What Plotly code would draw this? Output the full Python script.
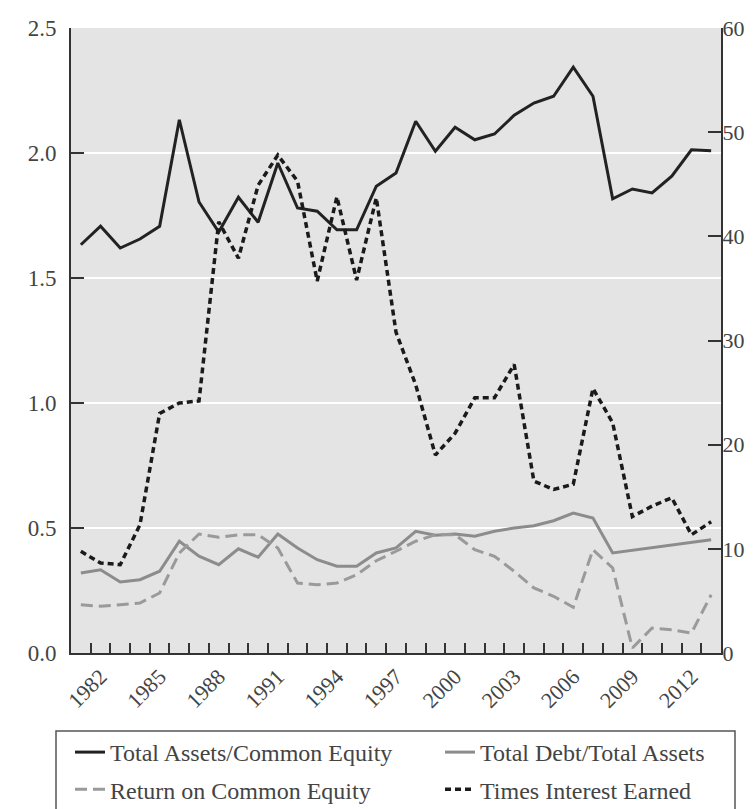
import plotly.graph_objects as go

years = list(range(1981, 2014))
tick_years = [1982, 1985, 1988, 1991, 1994, 1997, 2000, 2003, 2006, 2009, 2012]
tick_labels = [str(y) for y in tick_years]

assets_to_equity = [1.633, 1.707, 1.62, 1.656, 1.707, 2.133, 1.804, 1.684, 1.823, 1.723,
                    1.96, 1.78, 1.767, 1.693, 1.693, 1.867, 1.92, 2.127, 2.007, 2.103,
                    2.053, 2.076, 2.151, 2.2, 2.227, 2.343, 2.227, 1.817, 1.856, 1.84,
                    1.907, 2.013, 2.009]
debt_to_assets = [0.32, 0.333, 0.284, 0.293, 0.327, 0.447, 0.387, 0.353, 0.417, 0.383,
                  0.476, 0.42, 0.373, 0.347, 0.347, 0.4, 0.42, 0.487, 0.471, 0.476,
                  0.467, 0.487, 0.5, 0.509, 0.529, 0.56, 0.54, 0.4, None, None,
                  None, None, 0.453]
return_on_equity = [0.193, 0.187, 0.193, 0.2, 0.24, 0.40, 0.476, 0.463, 0.473, 0.473,
                    0.42, 0.28, 0.273, 0.28, 0.313, 0.369, 0.407, 0.447, 0.473, 0.473,
                    0.413, 0.387, 0.327, 0.26, 0.227, 0.183, 0.413, 0.34, 0.02, 0.1,
                    0.093, 0.08, 0.233]
times_interest = [9.76, 8.64, 8.48, 12.3, 23.0, 24.0, 24.2, 41.4, 37.9, 44.9,
                  47.8, 45.3, 35.7, 43.8, 35.8, 43.7, 30.8, 25.75, 19.0, 21.1,
                  24.5, 24.5, 27.7, 16.5, 15.7, 16.2, 25.4, 22.1, 13.1, 14.1,
                  14.9, 11.35, 12.6]

FONT = "Liberation Serif"
W, H = 753, 809
ML, MR, MT, MB = 63, 40, 20, 164
PW, PH = W - ML - MR, H - MT - MB


def px_x(p):
    return (p - ML) / PW


def px_y(p):
    return (H - MB - p) / PH


fig = go.Figure()
fig.add_trace(go.Scatter(x=years, y=assets_to_equity, name="Total Assets/Common Equity",
                         mode="lines", line=dict(color="#222222", width=3), yaxis="y",
                         legend="legend", legendgroup="a"))
fig.add_trace(go.Scatter(x=years, y=debt_to_assets, name="Total Debt/Total Assets",
                         mode="lines", connectgaps=True,
                         line=dict(color="#8c8c8c", width=3), yaxis="y",
                         legend="legend2", legendgroup="b"))
fig.add_trace(go.Scatter(x=years, y=return_on_equity, name="Return on Common Equity",
                         mode="lines", line=dict(color="#9a9a9a", width=3, dash="12px,6px"),
                         yaxis="y", legend="legend", legendgroup="c"))
fig.add_trace(go.Scatter(x=years, y=times_interest, name="Times Interest Earned",
                         mode="lines", line=dict(color="#1a1a1a", width=3.5, dash="6px,4px"),
                         yaxis="y2", legend="legend2", legendgroup="d"))

legend_common = dict(
    orientation="v", xref="container", yref="container",
    xanchor="left", yanchor="top",
    bgcolor="rgba(0,0,0,0)", borderwidth=0,
    font=dict(family=FONT, size=24, color="#444444"),
    traceorder="grouped", tracegroupgap=3,
)

fig.update_layout(
    width=W, height=H,
    margin=dict(l=ML, r=MR, t=MT, b=MB, autoexpand=False),
    paper_bgcolor="white",
    plot_bgcolor="#e4e4e4",
    font=dict(family=FONT, size=23, color="#444444"),
    xaxis=dict(
        range=[1980.5, 2013.5], automargin=False,
        tickmode="array", tickvals=tick_years, ticktext=tick_labels,
        tickangle=-45, ticks="", showgrid=False, zeroline=False,
        showline=True, linecolor="#333333", linewidth=2,
        tickfont=dict(size=22, color="#444444"),
        minor=dict(tickvals=[y + 0.5 for y in years[:-1]], ticks="inside",
                   ticklen=10, tickcolor="#333333", tickwidth=1.5, showgrid=False),
    ),
    yaxis=dict(
        range=[0, 2.5], tickvals=[0, 0.5, 1.0, 1.5, 2.0, 2.5], automargin=False,
        ticktext=["0.0", "0.5", "1.0", "1.5", "2.0", "2.5"],
        ticks="inside", ticklen=13, tickcolor="#333333", tickwidth=1.5,
        showline=True, linecolor="#333333", linewidth=2,
        showgrid=True, gridcolor="white", gridwidth=2, zeroline=False,
        ticklabelstandoff=8,
    ),
    yaxis2=dict(
        range=[0, 60], tickvals=[0, 10, 20, 30, 40, 50, 60], automargin=False,
        overlaying="y", side="right",
        ticks="inside", ticklen=13, tickcolor="#333333", tickwidth=1.5,
        showline=True, linecolor="#333333", linewidth=2,
        showgrid=False, zeroline=False, ticklabelstandoff=-5,
        tickfont=dict(size=22),
    ),
    legend=dict(legend_common, x=62 / W, y=1 - 722 / H),
    legend2=dict(legend_common, x=432 / W, y=1 - 722 / H),
    shapes=[dict(type="rect", xref="paper", yref="paper",
                 x0=px_x(48), x1=px_x(727), y0=px_y(723), y1=px_y(807),
                 line=dict(color="#555555", width=1.5), fillcolor="white",
                 layer="above")],
    showlegend=True,
)

fig.write_html("out.html")
